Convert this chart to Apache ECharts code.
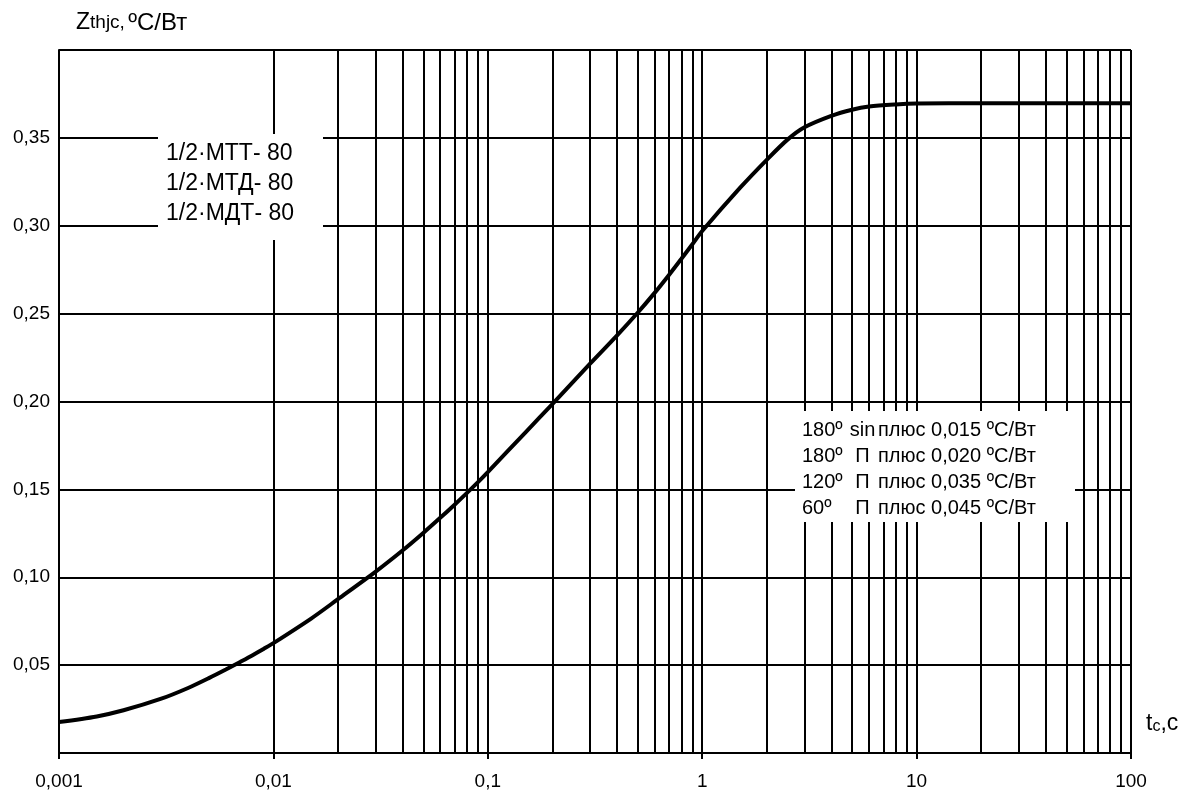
<!DOCTYPE html>
<html>
<head>
<meta charset="utf-8">
<script src="https://cdn.jsdelivr.net/npm/echarts@6/dist/echarts.min.js"></script>
<style>
  html, body { margin: 0; padding: 0; background: #fff; }
  #chart { width: 1193px; height: 796px; }
</style>
</head>
<body>
<div id="chart"></div>
<script>
// Transient thermal impedance junction-case vs. time
const timeS = [0.001, 0.0015, 0.002, 0.003, 0.004, 0.005, 0.006, 0.007, 0.008, 0.009, 0.01, 0.015, 0.02, 0.03, 0.04, 0.05, 0.06, 0.07, 0.08, 0.09, 0.1, 0.15, 0.2, 0.3, 0.4, 0.5, 0.6, 0.7, 0.8, 0.9, 1, 1.5, 2, 2.5, 3, 4, 5, 6, 8, 10, 20, 100];
const zthjc = [0.0176, 0.0208, 0.0243, 0.0309, 0.0370, 0.0426, 0.0475, 0.0518, 0.0556, 0.0592, 0.0625, 0.0765, 0.0875, 0.1032, 0.1152, 0.1252, 0.1338, 0.1413, 0.1480, 0.1541, 0.1598, 0.1825, 0.1985, 0.2215, 0.2375, 0.2505, 0.2618, 0.2720, 0.2812, 0.2895, 0.2970, 0.3215, 0.3375, 0.3490, 0.3560, 0.3625, 0.3660, 0.3678, 0.3690, 0.3695, 0.3697, 0.3697];

// Log-scale minor grid positions (2..9 within each decade)
const decades = [0.001, 0.01, 0.1, 1, 10];
const minorSteps = [2, 3, 4, 5, 6, 7, 8, 9];

const modelLines = ['1/2·МТТ- 80', '1/2·МТД- 80', '1/2·МДТ- 80'];
// Additions by conduction angle: angle, waveform, value
const addAngle = ['180º', '180º', '120º', '60º'];
const addShape = ['sin', 'П', 'П', 'П'];
const addText = ['плюс 0,015 ºC/Вт', 'плюс 0,020 ºC/Вт', 'плюс 0,035 ºC/Вт', 'плюс 0,045 ºC/Вт'];

const FONT = '"Liberation Sans", Arial, sans-serif';
const comma = v => String(v).replace('.', ',');

const minorX = [];
decades.forEach(d => minorSteps.forEach(k => minorX.push({ xAxis: +(d * k).toPrecision(3) })));

const addRows = addAngle.map((a, i) => `{a|${a}}{b|${addShape[i]}}{c|${addText[i]}}`).join('\n');

const chart = echarts.init(document.getElementById('chart'));
chart.setOption({
  animation: false,
  backgroundColor: '#fff',
  grid: { left: 59, right: 62, top: 50, bottom: 43 },
  xAxis: {
    type: 'log',
    min: 0.001,
    max: 100,
    logBase: 10,
    axisLine: { show: true, lineStyle: { color: '#000', width: 2 } },
    axisTick: { show: true, length: 6, lineStyle: { color: '#000', width: 2 } },
    axisLabel: {
      color: '#000', fontSize: 19, fontFamily: FONT, margin: 19,
      formatter: v => comma(+v.toPrecision(3))
    },
    splitLine: { show: true, lineStyle: { color: '#000', width: 2 } }
  },
  yAxis: {
    type: 'value',
    min: 0,
    max: 0.4,
    interval: 0.05,
    axisLine: { show: true, lineStyle: { color: '#000', width: 2 } },
    axisTick: { show: false },
    axisLabel: {
      color: '#000', fontSize: 19, fontFamily: FONT, margin: 9,
      formatter: v => (v <= 0.001 || v >= 0.399) ? '' : comma(v.toFixed(2))
    },
    splitLine: { show: true, lineStyle: { color: '#000', width: 2 } }
  },
  series: [{
    type: 'line',
    data: timeS.map((t, i) => [t, zthjc[i]]),
    smooth: 0.3,
    showSymbol: false,
    lineStyle: { color: '#000', width: 4 },
    z: 5,
    markLine: {
      silent: true,
      symbol: 'none',
      label: { show: false },
      lineStyle: { color: '#000', width: 2, type: 'solid' },
      data: minorX,
      z: 1
    }
  }],
  graphic: [
    {
      type: 'text', left: 76, top: 11, z: 100,
      style: {
        text: '{z|Z}{s|thjc,} {u|ºC/Вт}',
        rich: {
          z: { fontSize: 23, fontFamily: FONT, fill: '#000' },
          s: { fontSize: 19, fontFamily: FONT, fill: '#000' },
          u: { fontSize: 24, fontFamily: FONT, fill: '#000' }
        }
      }
    },
    {
      type: 'text', left: 1146, top: 712, z: 100,
      style: {
        text: '{t|t}{s|c}{t|,c}',
        rich: {
          t: { fontSize: 23, fontFamily: FONT, fill: '#000' },
          s: { fontSize: 16, fontFamily: FONT, fill: '#000', padding: [6, 0, 0, 0] }
        }
      }
    },
    {
      type: 'rect', z: 99,
      shape: { x: 158, y: 134, width: 165, height: 106 },
      style: { fill: '#fff' }
    },
    {
      type: 'text', left: 166, top: 139, z: 100,
      style: {
        text: modelLines.join('\n'),
        fontSize: 23, lineHeight: 30, fontFamily: FONT, fill: '#000'
      }
    },
    {
      type: 'rect', z: 99,
      shape: { x: 795, y: 411, width: 280, height: 111 },
      style: { fill: '#fff' }
    },
    {
      type: 'text', left: 802, top: 417, z: 100,
      style: {
        text: addRows,
        lineHeight: 26,
        rich: {
          a: { fontSize: 20, fontFamily: FONT, fill: '#000', width: 45 },
          b: { fontSize: 20, fontFamily: FONT, fill: '#000', width: 31, align: 'center' },
          c: { fontSize: 20, fontFamily: FONT, fill: '#000' }
        }
      }
    }
  ]
});
</script>
</body>
</html>
